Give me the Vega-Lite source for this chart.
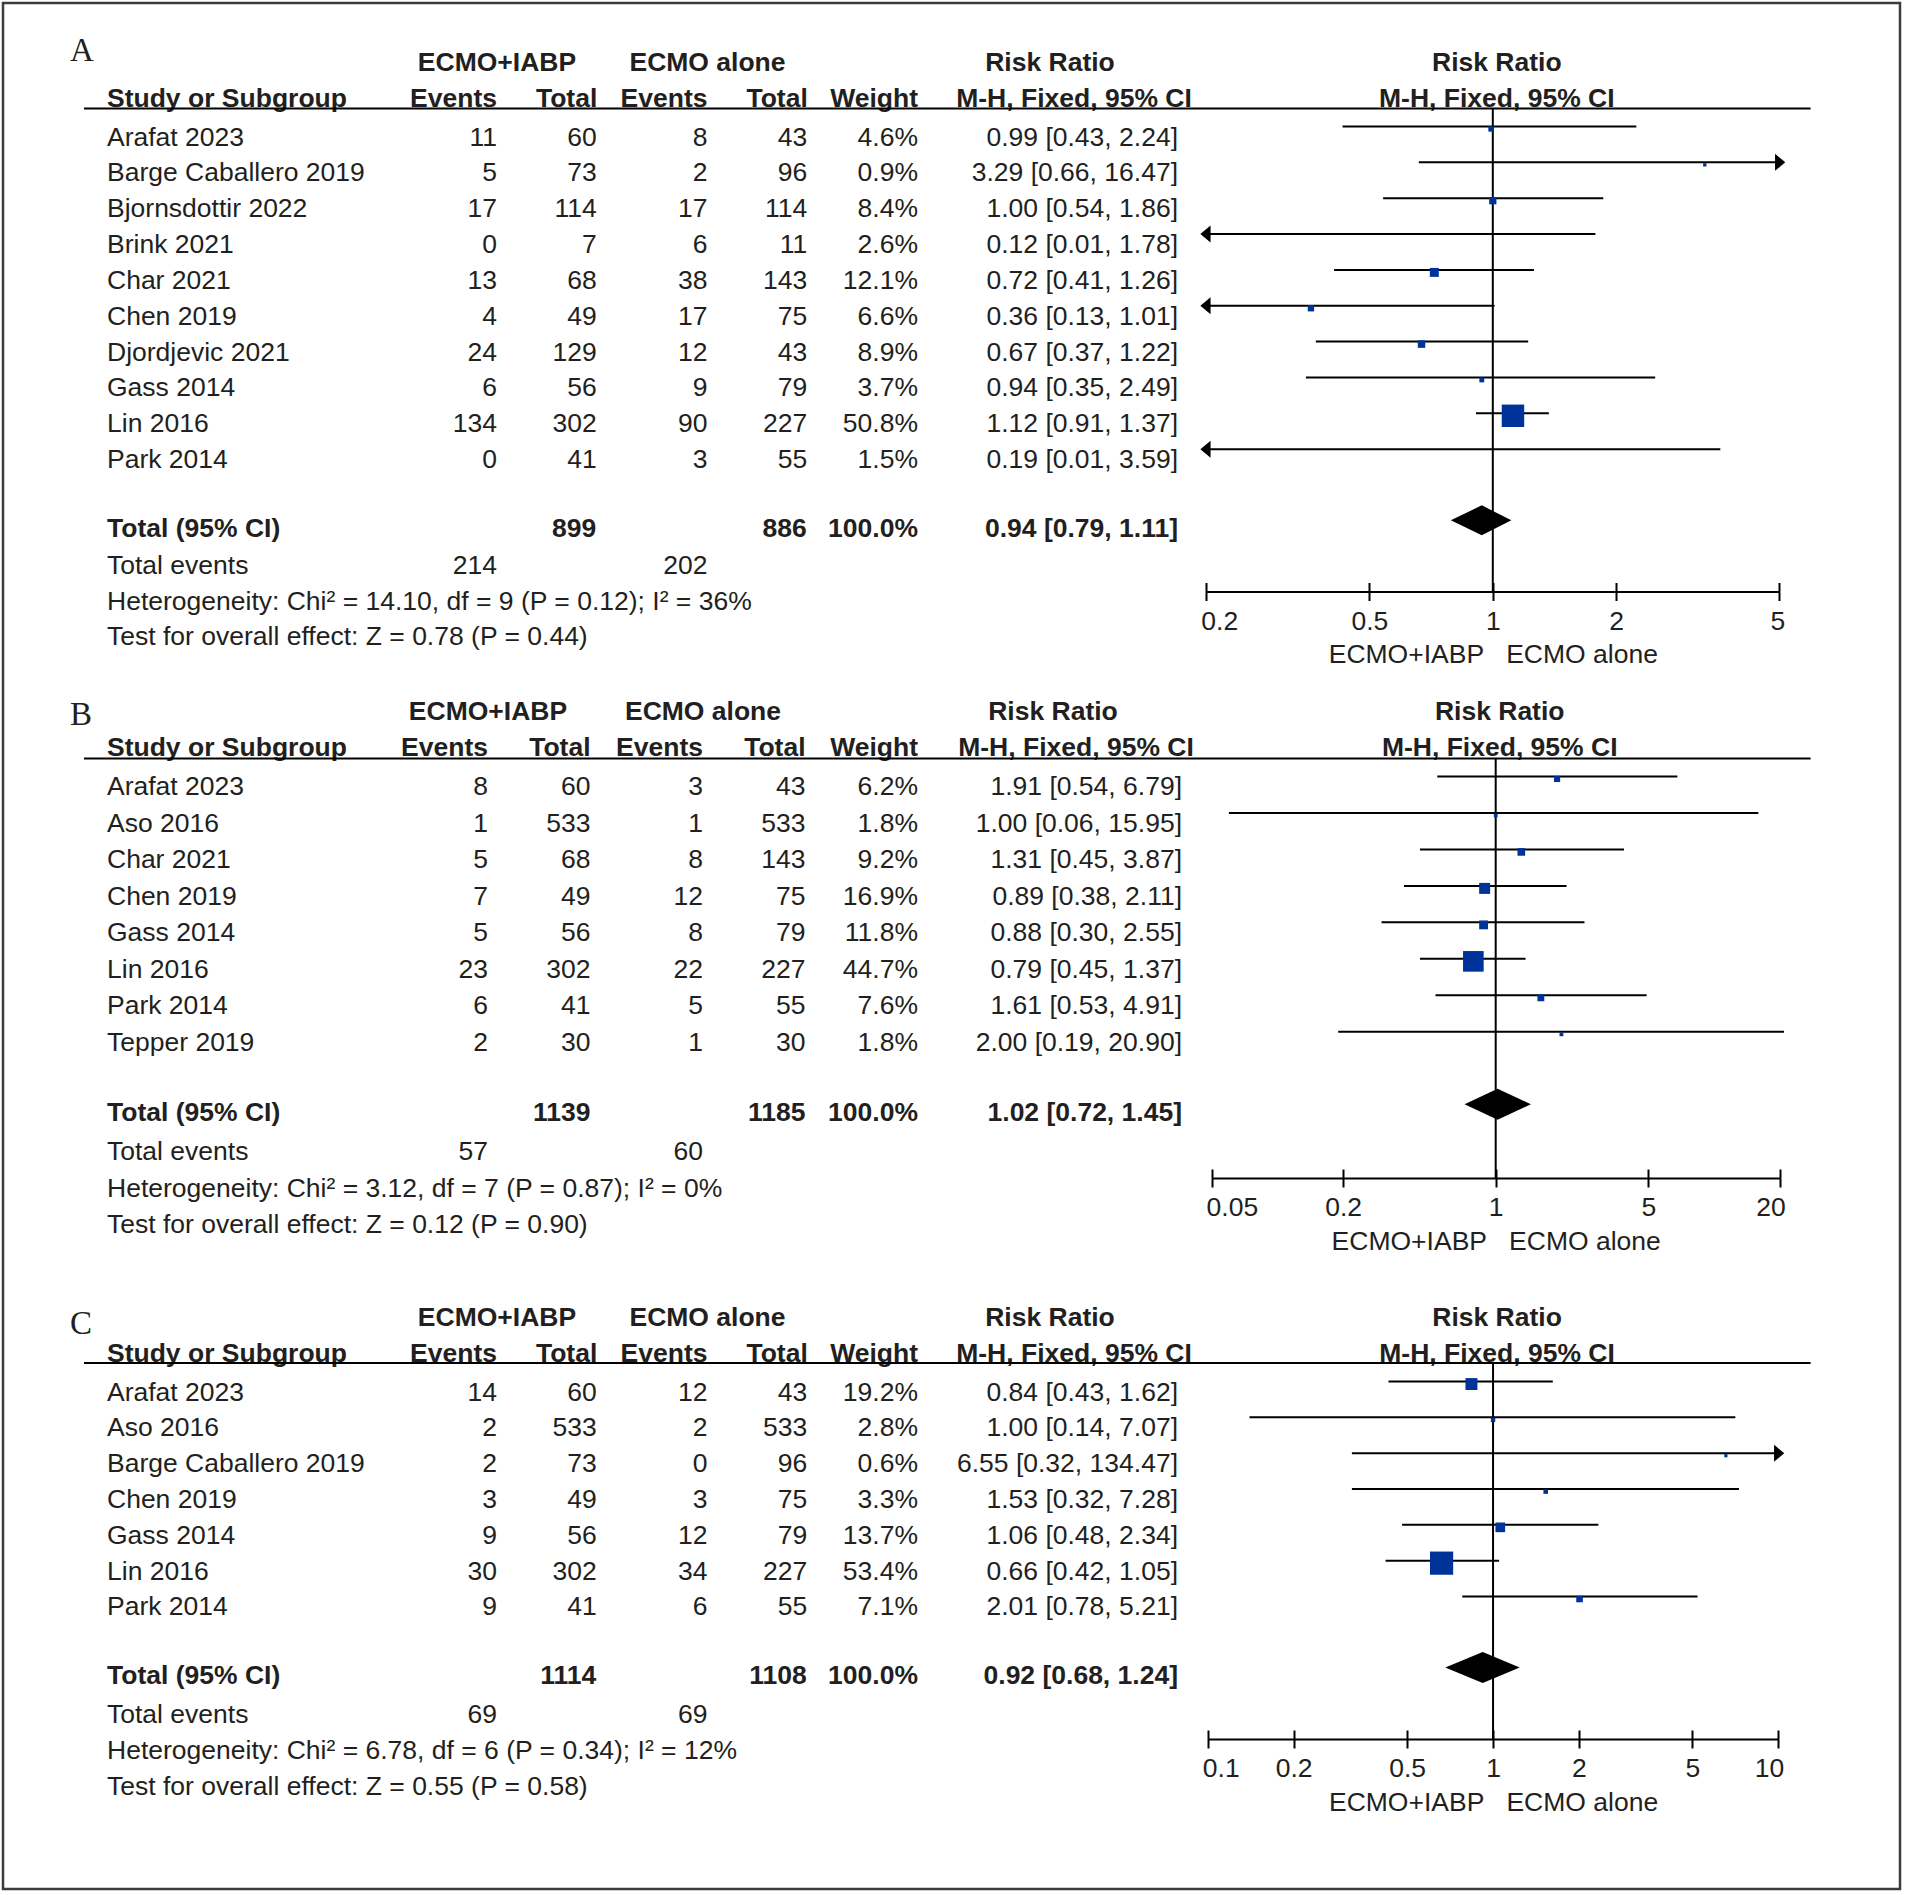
{
"$schema": "https://vega.github.io/schema/vega-lite/v6.json",
"width": 1897, "height": 1886,
"autosize": {"type": "none"},
"padding": {"left": 3, "top": 3, "right": 5, "bottom": 6},
"background": "white",
"config": {
 "view": {"stroke": "#3c3c3c", "strokeWidth": 2.5},
 "text": {"font": "Liberation Sans", "fontSize": 26.5, "color": "#231f20", "baseline": "middle"},
 "rule": {"color": "#000000", "strokeWidth": 2},
 "axis": {"domainColor": "#000000", "domainWidth": 2, "tickColor": "#000000", "tickWidth": 2, "labelFont": "Liberation Sans", "labelFontSize": 26.5, "labelColor": "#231f20", "titleFont": "Liberation Sans", "titleFontSize": 26.5, "titleFontWeight": "normal", "titleColor": "#231f20", "grid": false}
},
"datasets": {
 "studies": [
  {"panel":"A","study":"Arafat 2023","e1":11,"n1":60,"e2":8,"n2":43,"w":0.046,"rr":0.99,"lo":0.43,"hi":2.24,"ci":"0.99 [0.43, 2.24]"},
  {"panel":"A","study":"Barge Caballero 2019","e1":5,"n1":73,"e2":2,"n2":96,"w":0.009,"rr":3.29,"lo":0.66,"hi":16.47,"ci":"3.29 [0.66, 16.47]"},
  {"panel":"A","study":"Bjornsdottir 2022","e1":17,"n1":114,"e2":17,"n2":114,"w":0.084,"rr":1.00,"lo":0.54,"hi":1.86,"ci":"1.00 [0.54, 1.86]"},
  {"panel":"A","study":"Brink 2021","e1":0,"n1":7,"e2":6,"n2":11,"w":0.026,"rr":0.12,"lo":0.01,"hi":1.78,"ci":"0.12 [0.01, 1.78]"},
  {"panel":"A","study":"Char 2021","e1":13,"n1":68,"e2":38,"n2":143,"w":0.121,"rr":0.72,"lo":0.41,"hi":1.26,"ci":"0.72 [0.41, 1.26]"},
  {"panel":"A","study":"Chen 2019","e1":4,"n1":49,"e2":17,"n2":75,"w":0.066,"rr":0.36,"lo":0.13,"hi":1.01,"ci":"0.36 [0.13, 1.01]"},
  {"panel":"A","study":"Djordjevic 2021","e1":24,"n1":129,"e2":12,"n2":43,"w":0.089,"rr":0.67,"lo":0.37,"hi":1.22,"ci":"0.67 [0.37, 1.22]"},
  {"panel":"A","study":"Gass 2014","e1":6,"n1":56,"e2":9,"n2":79,"w":0.037,"rr":0.94,"lo":0.35,"hi":2.49,"ci":"0.94 [0.35, 2.49]"},
  {"panel":"A","study":"Lin 2016","e1":134,"n1":302,"e2":90,"n2":227,"w":0.508,"rr":1.12,"lo":0.91,"hi":1.37,"ci":"1.12 [0.91, 1.37]"},
  {"panel":"A","study":"Park 2014","e1":0,"n1":41,"e2":3,"n2":55,"w":0.015,"rr":0.19,"lo":0.01,"hi":3.59,"ci":"0.19 [0.01, 3.59]"},
  {"panel":"B","study":"Arafat 2023","e1":8,"n1":60,"e2":3,"n2":43,"w":0.062,"rr":1.91,"lo":0.54,"hi":6.79,"ci":"1.91 [0.54, 6.79]"},
  {"panel":"B","study":"Aso 2016","e1":1,"n1":533,"e2":1,"n2":533,"w":0.018,"rr":1.00,"lo":0.06,"hi":15.95,"ci":"1.00 [0.06, 15.95]"},
  {"panel":"B","study":"Char 2021","e1":5,"n1":68,"e2":8,"n2":143,"w":0.092,"rr":1.31,"lo":0.45,"hi":3.87,"ci":"1.31 [0.45, 3.87]"},
  {"panel":"B","study":"Chen 2019","e1":7,"n1":49,"e2":12,"n2":75,"w":0.169,"rr":0.89,"lo":0.38,"hi":2.11,"ci":"0.89 [0.38, 2.11]"},
  {"panel":"B","study":"Gass 2014","e1":5,"n1":56,"e2":8,"n2":79,"w":0.118,"rr":0.88,"lo":0.30,"hi":2.55,"ci":"0.88 [0.30, 2.55]"},
  {"panel":"B","study":"Lin 2016","e1":23,"n1":302,"e2":22,"n2":227,"w":0.447,"rr":0.79,"lo":0.45,"hi":1.37,"ci":"0.79 [0.45, 1.37]"},
  {"panel":"B","study":"Park 2014","e1":6,"n1":41,"e2":5,"n2":55,"w":0.076,"rr":1.61,"lo":0.53,"hi":4.91,"ci":"1.61 [0.53, 4.91]"},
  {"panel":"B","study":"Tepper 2019","e1":2,"n1":30,"e2":1,"n2":30,"w":0.018,"rr":2.00,"lo":0.19,"hi":20.90,"ci":"2.00 [0.19, 20.90]"},
  {"panel":"C","study":"Arafat 2023","e1":14,"n1":60,"e2":12,"n2":43,"w":0.192,"rr":0.84,"lo":0.43,"hi":1.62,"ci":"0.84 [0.43, 1.62]"},
  {"panel":"C","study":"Aso 2016","e1":2,"n1":533,"e2":2,"n2":533,"w":0.028,"rr":1.00,"lo":0.14,"hi":7.07,"ci":"1.00 [0.14, 7.07]"},
  {"panel":"C","study":"Barge Caballero 2019","e1":2,"n1":73,"e2":0,"n2":96,"w":0.006,"rr":6.55,"lo":0.32,"hi":134.47,"ci":"6.55 [0.32, 134.47]"},
  {"panel":"C","study":"Chen 2019","e1":3,"n1":49,"e2":3,"n2":75,"w":0.033,"rr":1.53,"lo":0.32,"hi":7.28,"ci":"1.53 [0.32, 7.28]"},
  {"panel":"C","study":"Gass 2014","e1":9,"n1":56,"e2":12,"n2":79,"w":0.137,"rr":1.06,"lo":0.48,"hi":2.34,"ci":"1.06 [0.48, 2.34]"},
  {"panel":"C","study":"Lin 2016","e1":30,"n1":302,"e2":34,"n2":227,"w":0.534,"rr":0.66,"lo":0.42,"hi":1.05,"ci":"0.66 [0.42, 1.05]"},
  {"panel":"C","study":"Park 2014","e1":9,"n1":41,"e2":6,"n2":55,"w":0.071,"rr":2.01,"lo":0.78,"hi":5.21,"ci":"2.01 [0.78, 5.21]"}
 ],
 "totals": [
  {"panel":"A","e1":214,"n1":899,"e2":202,"n2":886,"w":1,"rr":0.94,"lo":0.79,"hi":1.11,"ci":"0.94 [0.79, 1.11]"},
  {"panel":"B","e1":57,"n1":1139,"e2":60,"n2":1185,"w":1,"rr":1.02,"lo":0.72,"hi":1.45,"ci":"1.02 [0.72, 1.45]"},
  {"panel":"C","e1":69,"n1":1114,"e2":69,"n2":1108,"w":1,"rr":0.92,"lo":0.68,"hi":1.24,"ci":"0.92 [0.68, 1.24]"}
 ],
 "headers": [
  {"kind":"grp","row":"h1","col":"e1","text":"ECMO+IABP"},
  {"kind":"grp","row":"h1","col":"e2","text":"ECMO alone"},
  {"kind":"colhdr","row":"h2","col":"e1","text":"Events"},
  {"kind":"colhdrn","row":"h2","col":"n1","text":"Total"},
  {"kind":"colhdr","row":"h2","col":"e2","text":"Events"},
  {"kind":"colhdrn","row":"h2","col":"n2","text":"Total"},
  {"kind":"colhdr","row":"h2","col":"w","text":"Weight"},
  {"kind":"cihdr","row":"h1","col":"rr","text":"Risk Ratio"},
  {"kind":"cihdr","row":"h2","col":"mh","text":"M-H, Fixed, 95% CI"},
  {"kind":"plothdr","row":"h1","text":"Risk Ratio"},
  {"kind":"plothdr","row":"h2","text":"M-H, Fixed, 95% CI"},
  {"kind":"boldleft","row":"h2","text":"Study or Subgroup"},
  {"kind":"boldleft","row":"total","text":"Total (95% CI)"}
 ],
 "footnotes": [
  {"panel":"A","row":"events","text":"Total events"},
  {"panel":"A","row":"het","text":"Heterogeneity: Chi\u00b2 = 14.10, df = 9 (P = 0.12); I\u00b2 = 36%"},
  {"panel":"A","row":"test","text":"Test for overall effect: Z = 0.78 (P = 0.44)"},
  {"panel":"B","row":"events","text":"Total events"},
  {"panel":"B","row":"het","text":"Heterogeneity: Chi\u00b2 = 3.12, df = 7 (P = 0.87); I\u00b2 = 0%"},
  {"panel":"B","row":"test","text":"Test for overall effect: Z = 0.12 (P = 0.90)"},
  {"panel":"C","row":"events","text":"Total events"},
  {"panel":"C","row":"het","text":"Heterogeneity: Chi\u00b2 = 6.78, df = 6 (P = 0.34); I\u00b2 = 12%"},
  {"panel":"C","row":"test","text":"Test for overall effect: Z = 0.55 (P = 0.58)"}
 ],
 "profile": [
  {"key":"lo","top":0,"bot":0},
  {"key":"rr","top":1,"bot":-1},
  {"key":"hi","top":0,"bot":0}
 ]
},
"resolve": {"scale": {"x": "independent", "y": "independent"}, "axis": {"x": "independent", "y": "independent"}},
"layer": [
 {"data":{"name":"totals"},"transform":[{"filter":"datum.panel === 'A'"}],"mark":{"type":"text","font":"Liberation Serif","fontSize":33,"align":"left","dx":-37,"dy":-15},"encoding":{"x":{"datum":"study","type":"nominal","scale":{"type":"point","domain":["study","ci"],"range":[104,1175],"padding":0},"axis":null},"y":{"datum":"h1","type":"nominal","scale":{"type":"point","domain":["h1","h2","Arafat 2023","Barge Caballero 2019","Bjornsdottir 2022","Brink 2021","Char 2021","Chen 2019","Djordjevic 2021","Gass 2014","Lin 2016","Park 2014","gap","total","events","het","test"],"range":[62.8,636.4],"padding":0},"axis":null},"text":{"field":"panel","type":"nominal"}}},
 {"data":{"name":"headers"},"transform":[{"filter":"datum.kind === 'grp'"}],"mark":{"type":"text","fontWeight":"bold","align":"center","dy":-2.5},"encoding":{"x":{"field":"col","type":"nominal","scale":{"type":"point","domain":["e1","n1","e2","n2","w"],"range":[494,915],"padding":0},"axis":null},"y":{"field":"row","type":"nominal","scale":{"type":"point","domain":["h1","h2","Arafat 2023","Barge Caballero 2019","Bjornsdottir 2022","Brink 2021","Char 2021","Chen 2019","Djordjevic 2021","Gass 2014","Lin 2016","Park 2014","gap","total","events","het","test"],"range":[62.8,636.4],"padding":0},"axis":null},"text":{"field":"text","type":"nominal"}}},
 {"data":{"name":"headers"},"transform":[{"filter":"datum.kind === 'colhdr'"}],"mark":{"type":"text","fontWeight":"bold","align":"right","dy":-2.5},"encoding":{"x":{"field":"col","type":"nominal","scale":{"type":"point","domain":["e1","n1","e2","n2","w"],"range":[494,915],"padding":0},"axis":null},"y":{"field":"row","type":"nominal","scale":{"type":"point","domain":["h1","h2","Arafat 2023","Barge Caballero 2019","Bjornsdottir 2022","Brink 2021","Char 2021","Chen 2019","Djordjevic 2021","Gass 2014","Lin 2016","Park 2014","gap","total","events","het","test"],"range":[62.8,636.4],"padding":0},"axis":null},"text":{"field":"text","type":"nominal"}}},
 {"data":{"name":"headers"},"transform":[{"filter":"datum.kind === 'colhdrn'"}],"mark":{"type":"text","fontWeight":"bold","align":"right","dy":-2.5,"dx":-5},"encoding":{"x":{"field":"col","type":"nominal","scale":{"type":"point","domain":["e1","n1","e2","n2","w"],"range":[494,915],"padding":0},"axis":null},"y":{"field":"row","type":"nominal","scale":{"type":"point","domain":["h1","h2","Arafat 2023","Barge Caballero 2019","Bjornsdottir 2022","Brink 2021","Char 2021","Chen 2019","Djordjevic 2021","Gass 2014","Lin 2016","Park 2014","gap","total","events","het","test"],"range":[62.8,636.4],"padding":0},"axis":null},"text":{"field":"text","type":"nominal"}}},
 {"data":{"name":"headers"},"transform":[{"filter":"datum.kind === 'cihdr'"}],"mark":{"type":"text","fontWeight":"bold","align":"center","dy":-2.5},"encoding":{"x":{"field":"col","type":"nominal","scale":{"type":"point","domain":["rr","mh"],"range":[1047,1071],"padding":0},"axis":null},"y":{"field":"row","type":"nominal","scale":{"type":"point","domain":["h1","h2","Arafat 2023","Barge Caballero 2019","Bjornsdottir 2022","Brink 2021","Char 2021","Chen 2019","Djordjevic 2021","Gass 2014","Lin 2016","Park 2014","gap","total","events","het","test"],"range":[62.8,636.4],"padding":0},"axis":null},"text":{"field":"text","type":"nominal"}}},
 {"data":{"name":"headers"},"transform":[{"filter":"datum.kind === 'plothdr'"}],"mark":{"type":"text","fontWeight":"bold","align":"center","dx":4,"dy":-2.5},"encoding":{"x":{"datum":1,"type":"quantitative","scale":{"type":"log","domain":[0.2,5],"range":[1203.3,1776.3],"clamp":true,"nice":false},"axis":null},"y":{"field":"row","type":"nominal","scale":{"type":"point","domain":["h1","h2","Arafat 2023","Barge Caballero 2019","Bjornsdottir 2022","Brink 2021","Char 2021","Chen 2019","Djordjevic 2021","Gass 2014","Lin 2016","Park 2014","gap","total","events","het","test"],"range":[62.8,636.4],"padding":0},"axis":null},"text":{"field":"text","type":"nominal"}}},
 {"data":{"name":"headers"},"transform":[{"filter":"datum.kind === 'boldleft'"}],"mark":{"type":"text","fontWeight":"bold","align":"left","dy":-3},"encoding":{"x":{"datum":"study","type":"nominal","scale":{"type":"point","domain":["study","ci"],"range":[104,1175],"padding":0},"axis":null},"y":{"field":"row","type":"nominal","scale":{"type":"point","domain":["h1","h2","Arafat 2023","Barge Caballero 2019","Bjornsdottir 2022","Brink 2021","Char 2021","Chen 2019","Djordjevic 2021","Gass 2014","Lin 2016","Park 2014","gap","total","events","het","test"],"range":[62.8,636.4],"padding":0},"axis":null},"text":{"field":"text","type":"nominal"}}},
 {"data":{"name":"studies"},"transform":[{"filter":"datum.panel === 'A'"}],"mark":{"type":"text","align":"left"},"encoding":{"x":{"datum":"study","type":"nominal","scale":{"type":"point","domain":["study","ci"],"range":[104,1175],"padding":0},"axis":null},"y":{"field":"study","type":"nominal","scale":{"type":"point","domain":["h1","h2","Arafat 2023","Barge Caballero 2019","Bjornsdottir 2022","Brink 2021","Char 2021","Chen 2019","Djordjevic 2021","Gass 2014","Lin 2016","Park 2014","gap","total","events","het","test"],"range":[62.8,636.4],"padding":0},"axis":null},"text":{"field":"study","type":"nominal"}}},
 {"data":{"name":"footnotes"},"transform":[{"filter":"datum.panel === 'A'"}],"mark":{"type":"text","align":"left","dy":-2},"encoding":{"x":{"datum":"study","type":"nominal","scale":{"type":"point","domain":["study","ci"],"range":[104,1175],"padding":0},"axis":null},"y":{"field":"row","type":"nominal","scale":{"type":"point","domain":["h1","h2","Arafat 2023","Barge Caballero 2019","Bjornsdottir 2022","Brink 2021","Char 2021","Chen 2019","Djordjevic 2021","Gass 2014","Lin 2016","Park 2014","gap","total","events","het","test"],"range":[62.8,636.4],"padding":0},"axis":null},"text":{"field":"text","type":"nominal"}}},
 {"data":{"name":"studies"},"transform":[{"filter":"datum.panel === 'A'"},{"fold":["e1","e2"],"as":["key","value"]}],"mark":{"type":"text","align":"right"},"encoding":{"x":{"field":"key","type":"nominal","scale":{"type":"point","domain":["e1","n1","e2","n2","w"],"range":[494,915],"padding":0},"axis":null},"y":{"field":"study","type":"nominal","scale":{"type":"point","domain":["h1","h2","Arafat 2023","Barge Caballero 2019","Bjornsdottir 2022","Brink 2021","Char 2021","Chen 2019","Djordjevic 2021","Gass 2014","Lin 2016","Park 2014","gap","total","events","het","test"],"range":[62.8,636.4],"padding":0},"axis":null},"text":{"field":"value","type":"nominal"}}},
 {"data":{"name":"studies"},"transform":[{"filter":"datum.panel === 'A'"},{"fold":["n1","n2"],"as":["key","value"]}],"mark":{"type":"text","align":"right","dx":-5.5},"encoding":{"x":{"field":"key","type":"nominal","scale":{"type":"point","domain":["e1","n1","e2","n2","w"],"range":[494,915],"padding":0},"axis":null},"y":{"field":"study","type":"nominal","scale":{"type":"point","domain":["h1","h2","Arafat 2023","Barge Caballero 2019","Bjornsdottir 2022","Brink 2021","Char 2021","Chen 2019","Djordjevic 2021","Gass 2014","Lin 2016","Park 2014","gap","total","events","het","test"],"range":[62.8,636.4],"padding":0},"axis":null},"text":{"field":"value","type":"nominal"}}},
 {"data":{"name":"studies"},"transform":[{"filter":"datum.panel === 'A'"}],"mark":{"type":"text","align":"right"},"encoding":{"x":{"datum":"w","type":"nominal","scale":{"type":"point","domain":["e1","n1","e2","n2","w"],"range":[494,915],"padding":0},"axis":null},"y":{"field":"study","type":"nominal","scale":{"type":"point","domain":["h1","h2","Arafat 2023","Barge Caballero 2019","Bjornsdottir 2022","Brink 2021","Char 2021","Chen 2019","Djordjevic 2021","Gass 2014","Lin 2016","Park 2014","gap","total","events","het","test"],"range":[62.8,636.4],"padding":0},"axis":null},"text":{"field":"w","type":"quantitative","format":".1%"}}},
 {"data":{"name":"studies"},"transform":[{"filter":"datum.panel === 'A'"}],"mark":{"type":"text","align":"right"},"encoding":{"x":{"datum":"ci","type":"nominal","scale":{"type":"point","domain":["study","ci"],"range":[104,1175],"padding":0},"axis":null},"y":{"field":"study","type":"nominal","scale":{"type":"point","domain":["h1","h2","Arafat 2023","Barge Caballero 2019","Bjornsdottir 2022","Brink 2021","Char 2021","Chen 2019","Djordjevic 2021","Gass 2014","Lin 2016","Park 2014","gap","total","events","het","test"],"range":[62.8,636.4],"padding":0},"axis":null},"text":{"field":"ci","type":"nominal"}}},
 {"data":{"name":"totals"},"transform":[{"filter":"datum.panel === 'A'"},{"fold":["e1","e2"],"as":["key","value"]}],"mark":{"type":"text","align":"right","dy":-2},"encoding":{"x":{"field":"key","type":"nominal","scale":{"type":"point","domain":["e1","n1","e2","n2","w"],"range":[494,915],"padding":0},"axis":null},"y":{"datum":"events","type":"nominal","scale":{"type":"point","domain":["h1","h2","Arafat 2023","Barge Caballero 2019","Bjornsdottir 2022","Brink 2021","Char 2021","Chen 2019","Djordjevic 2021","Gass 2014","Lin 2016","Park 2014","gap","total","events","het","test"],"range":[62.8,636.4],"padding":0},"axis":null},"text":{"field":"value","type":"nominal"}}},
 {"data":{"name":"totals"},"transform":[{"filter":"datum.panel === 'A'"},{"fold":["n1","n2"],"as":["key","value"]}],"mark":{"type":"text","align":"right","fontWeight":"bold","dx":-6,"dy":-3},"encoding":{"x":{"field":"key","type":"nominal","scale":{"type":"point","domain":["e1","n1","e2","n2","w"],"range":[494,915],"padding":0},"axis":null},"y":{"datum":"total","type":"nominal","scale":{"type":"point","domain":["h1","h2","Arafat 2023","Barge Caballero 2019","Bjornsdottir 2022","Brink 2021","Char 2021","Chen 2019","Djordjevic 2021","Gass 2014","Lin 2016","Park 2014","gap","total","events","het","test"],"range":[62.8,636.4],"padding":0},"axis":null},"text":{"field":"value","type":"nominal"}}},
 {"data":{"name":"totals"},"transform":[{"filter":"datum.panel === 'A'"}],"mark":{"type":"text","align":"right","fontWeight":"bold","dy":-3},"encoding":{"x":{"datum":"w","type":"nominal","scale":{"type":"point","domain":["e1","n1","e2","n2","w"],"range":[494,915],"padding":0},"axis":null},"y":{"datum":"total","type":"nominal","scale":{"type":"point","domain":["h1","h2","Arafat 2023","Barge Caballero 2019","Bjornsdottir 2022","Brink 2021","Char 2021","Chen 2019","Djordjevic 2021","Gass 2014","Lin 2016","Park 2014","gap","total","events","het","test"],"range":[62.8,636.4],"padding":0},"axis":null},"text":{"field":"w","type":"quantitative","format":".1%"}}},
 {"data":{"name":"totals"},"transform":[{"filter":"datum.panel === 'A'"}],"mark":{"type":"text","align":"right","fontWeight":"bold","dy":-3},"encoding":{"x":{"datum":"ci","type":"nominal","scale":{"type":"point","domain":["study","ci"],"range":[104,1175],"padding":0},"axis":null},"y":{"datum":"total","type":"nominal","scale":{"type":"point","domain":["h1","h2","Arafat 2023","Barge Caballero 2019","Bjornsdottir 2022","Brink 2021","Char 2021","Chen 2019","Djordjevic 2021","Gass 2014","Lin 2016","Park 2014","gap","total","events","het","test"],"range":[62.8,636.4],"padding":0},"axis":null},"text":{"field":"ci","type":"nominal"}}},
 {"data":{"name":"totals"},"transform":[{"filter":"datum.panel === 'A'"}],"mark":{"type":"rule"},"encoding":{"x":{"datum":0,"type":"quantitative","scale":{"type":"linear","domain":[0,1],"range":[81,1807.6],"zero":false,"nice":false},"axis":null},"x2":{"datum":1},"y":{"datum":0,"type":"quantitative","scale":{"type":"linear","domain":[0,1],"range":[105.5,588.5],"zero":false,"nice":false},"axis":null}}},
 {"data":{"name":"totals"},"transform":[{"filter":"datum.panel === 'A'"}],"mark":{"type":"rule"},"encoding":{"x":{"datum":1,"type":"quantitative","scale":{"type":"log","domain":[0.2,5],"range":[1203.3,1776.3],"clamp":true,"nice":false},"axis":null},"y":{"datum":0,"type":"quantitative","scale":{"type":"linear","domain":[0,1],"range":[105.5,588.5],"zero":false,"nice":false},"axis":null},"y2":{"datum":1}}},
 {"data":{"name":"studies"},"transform":[{"filter":"datum.panel === 'A'"}],"mark":{"type":"rule","yOffset":-11},"encoding":{"x":{"field":"lo","type":"quantitative","scale":{"type":"log","domain":[0.2,5],"range":[1203.3,1776.3],"clamp":true,"nice":false},"axis":{"orient":"bottom","values":[0.2,0.5,1,2,5],"format":"~g","offset":-1297.5,"title":"ECMO+IABP\u00a0\u00a0\u00a0ECMO alone","tickSize":9,"labelPadding":7.5,"titlePadding":7,"labelFlush":true,"labelFlushOffset":5.5,"labelOverlap":false}},"x2":{"field":"hi"},"y":{"field":"study","type":"nominal","scale":{"type":"point","domain":["h1","h2","Arafat 2023","Barge Caballero 2019","Bjornsdottir 2022","Brink 2021","Char 2021","Chen 2019","Djordjevic 2021","Gass 2014","Lin 2016","Park 2014","gap","total","events","het","test"],"range":[62.8,636.4],"padding":0},"axis":null}}},
 {"data":{"name":"studies"},"transform":[{"filter":"datum.panel === 'A'"},{"filter":"datum.rr >= 0.2 && datum.rr <= 5"}],"mark":{"type":"point","shape":"square","filled":true,"color":"#003399","opacity":1,"yOffset":-8.5},"encoding":{"x":{"field":"rr","type":"quantitative","scale":{"type":"log","domain":[0.2,5],"range":[1203.3,1776.3],"clamp":true,"nice":false},"axis":{"orient":"bottom","values":[0.2,0.5,1,2,5],"offset":-1297.5,"tickSize":-9,"labels":false,"domain":false,"title":null}},"y":{"field":"study","type":"nominal","scale":{"type":"point","domain":["h1","h2","Arafat 2023","Barge Caballero 2019","Bjornsdottir 2022","Brink 2021","Char 2021","Chen 2019","Djordjevic 2021","Gass 2014","Lin 2016","Park 2014","gap","total","events","het","test"],"range":[62.8,636.4],"padding":0},"axis":null},"size":{"field":"w","type":"quantitative","scale":{"type":"pow","exponent":1.35,"domain":[0,0.55],"range":[9,560]},"legend":null}}},
 {"data":{"name":"studies"},"transform":[{"filter":"datum.panel === 'A'"},{"filter":"datum.hi > 5"}],"mark":{"type":"point","shape":"M-0.5,-1L0.7,0L-0.5,1Z","filled":true,"color":"#000000","opacity":1,"size":289,"yOffset":-11},"encoding":{"x":{"field":"hi","type":"quantitative","scale":{"type":"log","domain":[0.2,5],"range":[1203.3,1776.3],"clamp":true,"nice":false},"axis":null},"y":{"field":"study","type":"nominal","scale":{"type":"point","domain":["h1","h2","Arafat 2023","Barge Caballero 2019","Bjornsdottir 2022","Brink 2021","Char 2021","Chen 2019","Djordjevic 2021","Gass 2014","Lin 2016","Park 2014","gap","total","events","het","test"],"range":[62.8,636.4],"padding":0},"axis":null}}},
 {"data":{"name":"studies"},"transform":[{"filter":"datum.panel === 'A'"},{"filter":"datum.lo < 0.2"}],"mark":{"type":"point","shape":"M0.5,-1L-0.7,0L0.5,1Z","filled":true,"color":"#000000","opacity":1,"size":289,"yOffset":-11},"encoding":{"x":{"field":"lo","type":"quantitative","scale":{"type":"log","domain":[0.2,5],"range":[1203.3,1776.3],"clamp":true,"nice":false},"axis":null},"y":{"field":"study","type":"nominal","scale":{"type":"point","domain":["h1","h2","Arafat 2023","Barge Caballero 2019","Bjornsdottir 2022","Brink 2021","Char 2021","Chen 2019","Djordjevic 2021","Gass 2014","Lin 2016","Park 2014","gap","total","events","het","test"],"range":[62.8,636.4],"padding":0},"axis":null}}},
 {"data":{"name":"totals"},"transform":[{"filter":"datum.panel === 'A'"},{"fold":["lo","rr","hi"],"as":["key","value"]},{"lookup":"key","from":{"data":{"name":"profile"},"key":"key","fields":["top","bot"]}}],"mark":{"type":"area","color":"#000000","opacity":1},"encoding":{"x":{"field":"value","type":"quantitative","scale":{"type":"log","domain":[0.2,5],"range":[1203.3,1776.3],"clamp":true,"nice":false},"axis":null},"y":{"field":"top","type":"quantitative","scale":{"type":"linear","domain":[-1,1],"range":[532.35,502.35],"zero":false,"nice":false},"axis":null},"y2":{"field":"bot"}}},

 {"data":{"name":"totals"},"transform":[{"filter":"datum.panel === 'B'"}],"mark":{"type":"text","font":"Liberation Serif","fontSize":33,"align":"left","dx":-37,"dy":0},"encoding":{"x":{"datum":"study","type":"nominal","scale":{"type":"point","domain":["study","ci"],"range":[104,1179],"padding":0},"axis":null},"y":{"datum":"h1","type":"nominal","scale":{"type":"point","domain":["h1","h2","Arafat 2023","Aso 2016","Char 2021","Chen 2019","Gass 2014","Lin 2016","Park 2014","Tepper 2019","gap","total","events","het","test"],"range":[711.5,1222.2],"padding":0},"axis":null},"text":{"field":"panel","type":"nominal"}}},
 {"data":{"name":"headers"},"transform":[{"filter":"datum.kind === 'grp'"}],"mark":{"type":"text","fontWeight":"bold","align":"center","dy":-2.5},"encoding":{"x":{"field":"col","type":"nominal","scale":{"type":"point","domain":["e1","n1","e2","n2","w"],"range":[485,915],"padding":0},"axis":null},"y":{"field":"row","type":"nominal","scale":{"type":"point","domain":["h1","h2","Arafat 2023","Aso 2016","Char 2021","Chen 2019","Gass 2014","Lin 2016","Park 2014","Tepper 2019","gap","total","events","het","test"],"range":[711.5,1222.2],"padding":0},"axis":null},"text":{"field":"text","type":"nominal"}}},
 {"data":{"name":"headers"},"transform":[{"filter":"datum.kind === 'colhdr'"}],"mark":{"type":"text","fontWeight":"bold","align":"right","dy":-2.5},"encoding":{"x":{"field":"col","type":"nominal","scale":{"type":"point","domain":["e1","n1","e2","n2","w"],"range":[485,915],"padding":0},"axis":null},"y":{"field":"row","type":"nominal","scale":{"type":"point","domain":["h1","h2","Arafat 2023","Aso 2016","Char 2021","Chen 2019","Gass 2014","Lin 2016","Park 2014","Tepper 2019","gap","total","events","het","test"],"range":[711.5,1222.2],"padding":0},"axis":null},"text":{"field":"text","type":"nominal"}}},
 {"data":{"name":"headers"},"transform":[{"filter":"datum.kind === 'colhdrn'"}],"mark":{"type":"text","fontWeight":"bold","align":"right","dy":-2.5,"dx":-5},"encoding":{"x":{"field":"col","type":"nominal","scale":{"type":"point","domain":["e1","n1","e2","n2","w"],"range":[485,915],"padding":0},"axis":null},"y":{"field":"row","type":"nominal","scale":{"type":"point","domain":["h1","h2","Arafat 2023","Aso 2016","Char 2021","Chen 2019","Gass 2014","Lin 2016","Park 2014","Tepper 2019","gap","total","events","het","test"],"range":[711.5,1222.2],"padding":0},"axis":null},"text":{"field":"text","type":"nominal"}}},
 {"data":{"name":"headers"},"transform":[{"filter":"datum.kind === 'cihdr'"}],"mark":{"type":"text","fontWeight":"bold","align":"center","dy":-2.5},"encoding":{"x":{"field":"col","type":"nominal","scale":{"type":"point","domain":["rr","mh"],"range":[1050,1073],"padding":0},"axis":null},"y":{"field":"row","type":"nominal","scale":{"type":"point","domain":["h1","h2","Arafat 2023","Aso 2016","Char 2021","Chen 2019","Gass 2014","Lin 2016","Park 2014","Tepper 2019","gap","total","events","het","test"],"range":[711.5,1222.2],"padding":0},"axis":null},"text":{"field":"text","type":"nominal"}}},
 {"data":{"name":"headers"},"transform":[{"filter":"datum.kind === 'plothdr'"}],"mark":{"type":"text","fontWeight":"bold","align":"center","dx":4,"dy":-2.5},"encoding":{"x":{"datum":1,"type":"quantitative","scale":{"type":"log","domain":[0.05,20],"range":[1208.6,1776.8],"clamp":false,"nice":false},"axis":null},"y":{"field":"row","type":"nominal","scale":{"type":"point","domain":["h1","h2","Arafat 2023","Aso 2016","Char 2021","Chen 2019","Gass 2014","Lin 2016","Park 2014","Tepper 2019","gap","total","events","het","test"],"range":[711.5,1222.2],"padding":0},"axis":null},"text":{"field":"text","type":"nominal"}}},
 {"data":{"name":"headers"},"transform":[{"filter":"datum.kind === 'boldleft'"}],"mark":{"type":"text","fontWeight":"bold","align":"left","dy":-3},"encoding":{"x":{"datum":"study","type":"nominal","scale":{"type":"point","domain":["study","ci"],"range":[104,1179],"padding":0},"axis":null},"y":{"field":"row","type":"nominal","scale":{"type":"point","domain":["h1","h2","Arafat 2023","Aso 2016","Char 2021","Chen 2019","Gass 2014","Lin 2016","Park 2014","Tepper 2019","gap","total","events","het","test"],"range":[711.5,1222.2],"padding":0},"axis":null},"text":{"field":"text","type":"nominal"}}},
 {"data":{"name":"studies"},"transform":[{"filter":"datum.panel === 'B'"}],"mark":{"type":"text","align":"left"},"encoding":{"x":{"datum":"study","type":"nominal","scale":{"type":"point","domain":["study","ci"],"range":[104,1179],"padding":0},"axis":null},"y":{"field":"study","type":"nominal","scale":{"type":"point","domain":["h1","h2","Arafat 2023","Aso 2016","Char 2021","Chen 2019","Gass 2014","Lin 2016","Park 2014","Tepper 2019","gap","total","events","het","test"],"range":[711.5,1222.2],"padding":0},"axis":null},"text":{"field":"study","type":"nominal"}}},
 {"data":{"name":"footnotes"},"transform":[{"filter":"datum.panel === 'B'"}],"mark":{"type":"text","align":"left"},"encoding":{"x":{"datum":"study","type":"nominal","scale":{"type":"point","domain":["study","ci"],"range":[104,1179],"padding":0},"axis":null},"y":{"field":"row","type":"nominal","scale":{"type":"point","domain":["h1","h2","Arafat 2023","Aso 2016","Char 2021","Chen 2019","Gass 2014","Lin 2016","Park 2014","Tepper 2019","gap","total","events","het","test"],"range":[711.5,1222.2],"padding":0},"axis":null},"text":{"field":"text","type":"nominal"}}},
 {"data":{"name":"studies"},"transform":[{"filter":"datum.panel === 'B'"},{"fold":["e1","e2"],"as":["key","value"]}],"mark":{"type":"text","align":"right"},"encoding":{"x":{"field":"key","type":"nominal","scale":{"type":"point","domain":["e1","n1","e2","n2","w"],"range":[485,915],"padding":0},"axis":null},"y":{"field":"study","type":"nominal","scale":{"type":"point","domain":["h1","h2","Arafat 2023","Aso 2016","Char 2021","Chen 2019","Gass 2014","Lin 2016","Park 2014","Tepper 2019","gap","total","events","het","test"],"range":[711.5,1222.2],"padding":0},"axis":null},"text":{"field":"value","type":"nominal"}}},
 {"data":{"name":"studies"},"transform":[{"filter":"datum.panel === 'B'"},{"fold":["n1","n2"],"as":["key","value"]}],"mark":{"type":"text","align":"right","dx":-5},"encoding":{"x":{"field":"key","type":"nominal","scale":{"type":"point","domain":["e1","n1","e2","n2","w"],"range":[485,915],"padding":0},"axis":null},"y":{"field":"study","type":"nominal","scale":{"type":"point","domain":["h1","h2","Arafat 2023","Aso 2016","Char 2021","Chen 2019","Gass 2014","Lin 2016","Park 2014","Tepper 2019","gap","total","events","het","test"],"range":[711.5,1222.2],"padding":0},"axis":null},"text":{"field":"value","type":"nominal"}}},
 {"data":{"name":"studies"},"transform":[{"filter":"datum.panel === 'B'"}],"mark":{"type":"text","align":"right"},"encoding":{"x":{"datum":"w","type":"nominal","scale":{"type":"point","domain":["e1","n1","e2","n2","w"],"range":[485,915],"padding":0},"axis":null},"y":{"field":"study","type":"nominal","scale":{"type":"point","domain":["h1","h2","Arafat 2023","Aso 2016","Char 2021","Chen 2019","Gass 2014","Lin 2016","Park 2014","Tepper 2019","gap","total","events","het","test"],"range":[711.5,1222.2],"padding":0},"axis":null},"text":{"field":"w","type":"quantitative","format":".1%"}}},
 {"data":{"name":"studies"},"transform":[{"filter":"datum.panel === 'B'"}],"mark":{"type":"text","align":"right"},"encoding":{"x":{"datum":"ci","type":"nominal","scale":{"type":"point","domain":["study","ci"],"range":[104,1179],"padding":0},"axis":null},"y":{"field":"study","type":"nominal","scale":{"type":"point","domain":["h1","h2","Arafat 2023","Aso 2016","Char 2021","Chen 2019","Gass 2014","Lin 2016","Park 2014","Tepper 2019","gap","total","events","het","test"],"range":[711.5,1222.2],"padding":0},"axis":null},"text":{"field":"ci","type":"nominal"}}},
 {"data":{"name":"totals"},"transform":[{"filter":"datum.panel === 'B'"},{"fold":["e1","e2"],"as":["key","value"]}],"mark":{"type":"text","align":"right"},"encoding":{"x":{"field":"key","type":"nominal","scale":{"type":"point","domain":["e1","n1","e2","n2","w"],"range":[485,915],"padding":0},"axis":null},"y":{"datum":"events","type":"nominal","scale":{"type":"point","domain":["h1","h2","Arafat 2023","Aso 2016","Char 2021","Chen 2019","Gass 2014","Lin 2016","Park 2014","Tepper 2019","gap","total","events","het","test"],"range":[711.5,1222.2],"padding":0},"axis":null},"text":{"field":"value","type":"nominal"}}},
 {"data":{"name":"totals"},"transform":[{"filter":"datum.panel === 'B'"},{"fold":["n1","n2"],"as":["key","value"]}],"mark":{"type":"text","align":"right","fontWeight":"bold","dx":-5,"dy":-3},"encoding":{"x":{"field":"key","type":"nominal","scale":{"type":"point","domain":["e1","n1","e2","n2","w"],"range":[485,915],"padding":0},"axis":null},"y":{"datum":"total","type":"nominal","scale":{"type":"point","domain":["h1","h2","Arafat 2023","Aso 2016","Char 2021","Chen 2019","Gass 2014","Lin 2016","Park 2014","Tepper 2019","gap","total","events","het","test"],"range":[711.5,1222.2],"padding":0},"axis":null},"text":{"field":"value","type":"nominal"}}},
 {"data":{"name":"totals"},"transform":[{"filter":"datum.panel === 'B'"}],"mark":{"type":"text","align":"right","fontWeight":"bold","dy":-3},"encoding":{"x":{"datum":"w","type":"nominal","scale":{"type":"point","domain":["e1","n1","e2","n2","w"],"range":[485,915],"padding":0},"axis":null},"y":{"datum":"total","type":"nominal","scale":{"type":"point","domain":["h1","h2","Arafat 2023","Aso 2016","Char 2021","Chen 2019","Gass 2014","Lin 2016","Park 2014","Tepper 2019","gap","total","events","het","test"],"range":[711.5,1222.2],"padding":0},"axis":null},"text":{"field":"w","type":"quantitative","format":".1%"}}},
 {"data":{"name":"totals"},"transform":[{"filter":"datum.panel === 'B'"}],"mark":{"type":"text","align":"right","fontWeight":"bold","dy":-3},"encoding":{"x":{"datum":"ci","type":"nominal","scale":{"type":"point","domain":["study","ci"],"range":[104,1179],"padding":0},"axis":null},"y":{"datum":"total","type":"nominal","scale":{"type":"point","domain":["h1","h2","Arafat 2023","Aso 2016","Char 2021","Chen 2019","Gass 2014","Lin 2016","Park 2014","Tepper 2019","gap","total","events","het","test"],"range":[711.5,1222.2],"padding":0},"axis":null},"text":{"field":"ci","type":"nominal"}}},
 {"data":{"name":"totals"},"transform":[{"filter":"datum.panel === 'B'"}],"mark":{"type":"rule"},"encoding":{"x":{"datum":0,"type":"quantitative","scale":{"type":"linear","domain":[0,1],"range":[81,1807.6],"zero":false,"nice":false},"axis":null},"x2":{"datum":1},"y":{"datum":0,"type":"quantitative","scale":{"type":"linear","domain":[0,1],"range":[755.4,1175],"zero":false,"nice":false},"axis":null}}},
 {"data":{"name":"totals"},"transform":[{"filter":"datum.panel === 'B'"}],"mark":{"type":"rule"},"encoding":{"x":{"datum":1,"type":"quantitative","scale":{"type":"log","domain":[0.05,20],"range":[1208.6,1776.8],"clamp":false,"nice":false},"axis":null},"y":{"datum":0,"type":"quantitative","scale":{"type":"linear","domain":[0,1],"range":[755.4,1175],"zero":false,"nice":false},"axis":null},"y2":{"datum":1}}},
 {"data":{"name":"studies"},"transform":[{"filter":"datum.panel === 'B'"}],"mark":{"type":"rule","yOffset":-11},"encoding":{"x":{"field":"lo","type":"quantitative","scale":{"type":"log","domain":[0.05,20],"range":[1208.6,1776.8],"clamp":false,"nice":false},"axis":{"orient":"bottom","values":[0.05,0.2,1,5,20],"format":"~g","offset":-711,"title":"ECMO+IABP\u00a0\u00a0\u00a0ECMO alone","tickSize":9,"labelPadding":7.5,"titlePadding":7,"labelFlush":true,"labelFlushOffset":5.5,"labelOverlap":false}},"x2":{"field":"hi"},"y":{"field":"study","type":"nominal","scale":{"type":"point","domain":["h1","h2","Arafat 2023","Aso 2016","Char 2021","Chen 2019","Gass 2014","Lin 2016","Park 2014","Tepper 2019","gap","total","events","het","test"],"range":[711.5,1222.2],"padding":0},"axis":null}}},
 {"data":{"name":"studies"},"transform":[{"filter":"datum.panel === 'B'"}],"mark":{"type":"point","shape":"square","filled":true,"color":"#003399","opacity":1,"yOffset":-8.5},"encoding":{"x":{"field":"rr","type":"quantitative","scale":{"type":"log","domain":[0.05,20],"range":[1208.6,1776.8],"clamp":false,"nice":false},"axis":{"orient":"bottom","values":[0.05,0.2,1,5,20],"offset":-711,"tickSize":-9,"labels":false,"domain":false,"title":null}},"y":{"field":"study","type":"nominal","scale":{"type":"point","domain":["h1","h2","Arafat 2023","Aso 2016","Char 2021","Chen 2019","Gass 2014","Lin 2016","Park 2014","Tepper 2019","gap","total","events","het","test"],"range":[711.5,1222.2],"padding":0},"axis":null},"size":{"field":"w","type":"quantitative","scale":{"type":"pow","exponent":1.35,"domain":[0,0.55],"range":[9,560]},"legend":null}}},
 {"data":{"name":"totals"},"transform":[{"filter":"datum.panel === 'B'"},{"fold":["lo","rr","hi"],"as":["key","value"]},{"lookup":"key","from":{"data":{"name":"profile"},"key":"key","fields":["top","bot"]}}],"mark":{"type":"area","color":"#000000","opacity":1},"encoding":{"x":{"field":"value","type":"quantitative","scale":{"type":"log","domain":[0.05,20],"range":[1208.6,1776.8],"clamp":false,"nice":false},"axis":null},"y":{"field":"top","type":"quantitative","scale":{"type":"linear","domain":[-1,1],"range":[1116.8,1085.8],"zero":false,"nice":false},"axis":null},"y2":{"field":"bot"}}},

 {"data":{"name":"totals"},"transform":[{"filter":"datum.panel === 'C'"}],"mark":{"type":"text","font":"Liberation Serif","fontSize":33,"align":"left","dx":-37,"dy":3.5},"encoding":{"x":{"datum":"study","type":"nominal","scale":{"type":"point","domain":["study","ci"],"range":[104,1175],"padding":0},"axis":null},"y":{"datum":"h1","type":"nominal","scale":{"type":"point","domain":["h1","h2","Arafat 2023","Aso 2016","Barge Caballero 2019","Chen 2019","Gass 2014","Lin 2016","Park 2014","gap","total","events","het","test"],"range":[1317.9,1783.6],"padding":0},"axis":null},"text":{"field":"panel","type":"nominal"}}},
 {"data":{"name":"headers"},"transform":[{"filter":"datum.kind === 'grp'"}],"mark":{"type":"text","fontWeight":"bold","align":"center","dy":-2.5},"encoding":{"x":{"field":"col","type":"nominal","scale":{"type":"point","domain":["e1","n1","e2","n2","w"],"range":[494,915],"padding":0},"axis":null},"y":{"field":"row","type":"nominal","scale":{"type":"point","domain":["h1","h2","Arafat 2023","Aso 2016","Barge Caballero 2019","Chen 2019","Gass 2014","Lin 2016","Park 2014","gap","total","events","het","test"],"range":[1317.9,1783.6],"padding":0},"axis":null},"text":{"field":"text","type":"nominal"}}},
 {"data":{"name":"headers"},"transform":[{"filter":"datum.kind === 'colhdr'"}],"mark":{"type":"text","fontWeight":"bold","align":"right","dy":-2.5},"encoding":{"x":{"field":"col","type":"nominal","scale":{"type":"point","domain":["e1","n1","e2","n2","w"],"range":[494,915],"padding":0},"axis":null},"y":{"field":"row","type":"nominal","scale":{"type":"point","domain":["h1","h2","Arafat 2023","Aso 2016","Barge Caballero 2019","Chen 2019","Gass 2014","Lin 2016","Park 2014","gap","total","events","het","test"],"range":[1317.9,1783.6],"padding":0},"axis":null},"text":{"field":"text","type":"nominal"}}},
 {"data":{"name":"headers"},"transform":[{"filter":"datum.kind === 'colhdrn'"}],"mark":{"type":"text","fontWeight":"bold","align":"right","dy":-2.5,"dx":-5},"encoding":{"x":{"field":"col","type":"nominal","scale":{"type":"point","domain":["e1","n1","e2","n2","w"],"range":[494,915],"padding":0},"axis":null},"y":{"field":"row","type":"nominal","scale":{"type":"point","domain":["h1","h2","Arafat 2023","Aso 2016","Barge Caballero 2019","Chen 2019","Gass 2014","Lin 2016","Park 2014","gap","total","events","het","test"],"range":[1317.9,1783.6],"padding":0},"axis":null},"text":{"field":"text","type":"nominal"}}},
 {"data":{"name":"headers"},"transform":[{"filter":"datum.kind === 'cihdr'"}],"mark":{"type":"text","fontWeight":"bold","align":"center","dy":-2.5},"encoding":{"x":{"field":"col","type":"nominal","scale":{"type":"point","domain":["rr","mh"],"range":[1047,1071],"padding":0},"axis":null},"y":{"field":"row","type":"nominal","scale":{"type":"point","domain":["h1","h2","Arafat 2023","Aso 2016","Barge Caballero 2019","Chen 2019","Gass 2014","Lin 2016","Park 2014","gap","total","events","het","test"],"range":[1317.9,1783.6],"padding":0},"axis":null},"text":{"field":"text","type":"nominal"}}},
 {"data":{"name":"headers"},"transform":[{"filter":"datum.kind === 'plothdr'"}],"mark":{"type":"text","fontWeight":"bold","align":"center","dx":4,"dy":-2.5},"encoding":{"x":{"datum":1,"type":"quantitative","scale":{"type":"log","domain":[0.1,10],"range":[1204.8,1775.3],"clamp":true,"nice":false},"axis":null},"y":{"field":"row","type":"nominal","scale":{"type":"point","domain":["h1","h2","Arafat 2023","Aso 2016","Barge Caballero 2019","Chen 2019","Gass 2014","Lin 2016","Park 2014","gap","total","events","het","test"],"range":[1317.9,1783.6],"padding":0},"axis":null},"text":{"field":"text","type":"nominal"}}},
 {"data":{"name":"headers"},"transform":[{"filter":"datum.kind === 'boldleft'"}],"mark":{"type":"text","fontWeight":"bold","align":"left","dy":-3},"encoding":{"x":{"datum":"study","type":"nominal","scale":{"type":"point","domain":["study","ci"],"range":[104,1175],"padding":0},"axis":null},"y":{"field":"row","type":"nominal","scale":{"type":"point","domain":["h1","h2","Arafat 2023","Aso 2016","Barge Caballero 2019","Chen 2019","Gass 2014","Lin 2016","Park 2014","gap","total","events","het","test"],"range":[1317.9,1783.6],"padding":0},"axis":null},"text":{"field":"text","type":"nominal"}}},
 {"data":{"name":"studies"},"transform":[{"filter":"datum.panel === 'C'"}],"mark":{"type":"text","align":"left"},"encoding":{"x":{"datum":"study","type":"nominal","scale":{"type":"point","domain":["study","ci"],"range":[104,1175],"padding":0},"axis":null},"y":{"field":"study","type":"nominal","scale":{"type":"point","domain":["h1","h2","Arafat 2023","Aso 2016","Barge Caballero 2019","Chen 2019","Gass 2014","Lin 2016","Park 2014","gap","total","events","het","test"],"range":[1317.9,1783.6],"padding":0},"axis":null},"text":{"field":"study","type":"nominal"}}},
 {"data":{"name":"footnotes"},"transform":[{"filter":"datum.panel === 'C'"}],"mark":{"type":"text","align":"left"},"encoding":{"x":{"datum":"study","type":"nominal","scale":{"type":"point","domain":["study","ci"],"range":[104,1175],"padding":0},"axis":null},"y":{"field":"row","type":"nominal","scale":{"type":"point","domain":["h1","h2","Arafat 2023","Aso 2016","Barge Caballero 2019","Chen 2019","Gass 2014","Lin 2016","Park 2014","gap","total","events","het","test"],"range":[1317.9,1783.6],"padding":0},"axis":null},"text":{"field":"text","type":"nominal"}}},
 {"data":{"name":"studies"},"transform":[{"filter":"datum.panel === 'C'"},{"fold":["e1","e2"],"as":["key","value"]}],"mark":{"type":"text","align":"right"},"encoding":{"x":{"field":"key","type":"nominal","scale":{"type":"point","domain":["e1","n1","e2","n2","w"],"range":[494,915],"padding":0},"axis":null},"y":{"field":"study","type":"nominal","scale":{"type":"point","domain":["h1","h2","Arafat 2023","Aso 2016","Barge Caballero 2019","Chen 2019","Gass 2014","Lin 2016","Park 2014","gap","total","events","het","test"],"range":[1317.9,1783.6],"padding":0},"axis":null},"text":{"field":"value","type":"nominal"}}},
 {"data":{"name":"studies"},"transform":[{"filter":"datum.panel === 'C'"},{"fold":["n1","n2"],"as":["key","value"]}],"mark":{"type":"text","align":"right","dx":-5.5},"encoding":{"x":{"field":"key","type":"nominal","scale":{"type":"point","domain":["e1","n1","e2","n2","w"],"range":[494,915],"padding":0},"axis":null},"y":{"field":"study","type":"nominal","scale":{"type":"point","domain":["h1","h2","Arafat 2023","Aso 2016","Barge Caballero 2019","Chen 2019","Gass 2014","Lin 2016","Park 2014","gap","total","events","het","test"],"range":[1317.9,1783.6],"padding":0},"axis":null},"text":{"field":"value","type":"nominal"}}},
 {"data":{"name":"studies"},"transform":[{"filter":"datum.panel === 'C'"}],"mark":{"type":"text","align":"right"},"encoding":{"x":{"datum":"w","type":"nominal","scale":{"type":"point","domain":["e1","n1","e2","n2","w"],"range":[494,915],"padding":0},"axis":null},"y":{"field":"study","type":"nominal","scale":{"type":"point","domain":["h1","h2","Arafat 2023","Aso 2016","Barge Caballero 2019","Chen 2019","Gass 2014","Lin 2016","Park 2014","gap","total","events","het","test"],"range":[1317.9,1783.6],"padding":0},"axis":null},"text":{"field":"w","type":"quantitative","format":".1%"}}},
 {"data":{"name":"studies"},"transform":[{"filter":"datum.panel === 'C'"}],"mark":{"type":"text","align":"right"},"encoding":{"x":{"datum":"ci","type":"nominal","scale":{"type":"point","domain":["study","ci"],"range":[104,1175],"padding":0},"axis":null},"y":{"field":"study","type":"nominal","scale":{"type":"point","domain":["h1","h2","Arafat 2023","Aso 2016","Barge Caballero 2019","Chen 2019","Gass 2014","Lin 2016","Park 2014","gap","total","events","het","test"],"range":[1317.9,1783.6],"padding":0},"axis":null},"text":{"field":"ci","type":"nominal"}}},
 {"data":{"name":"totals"},"transform":[{"filter":"datum.panel === 'C'"},{"fold":["e1","e2"],"as":["key","value"]}],"mark":{"type":"text","align":"right"},"encoding":{"x":{"field":"key","type":"nominal","scale":{"type":"point","domain":["e1","n1","e2","n2","w"],"range":[494,915],"padding":0},"axis":null},"y":{"datum":"events","type":"nominal","scale":{"type":"point","domain":["h1","h2","Arafat 2023","Aso 2016","Barge Caballero 2019","Chen 2019","Gass 2014","Lin 2016","Park 2014","gap","total","events","het","test"],"range":[1317.9,1783.6],"padding":0},"axis":null},"text":{"field":"value","type":"nominal"}}},
 {"data":{"name":"totals"},"transform":[{"filter":"datum.panel === 'C'"},{"fold":["n1","n2"],"as":["key","value"]}],"mark":{"type":"text","align":"right","fontWeight":"bold","dx":-6,"dy":-3},"encoding":{"x":{"field":"key","type":"nominal","scale":{"type":"point","domain":["e1","n1","e2","n2","w"],"range":[494,915],"padding":0},"axis":null},"y":{"datum":"total","type":"nominal","scale":{"type":"point","domain":["h1","h2","Arafat 2023","Aso 2016","Barge Caballero 2019","Chen 2019","Gass 2014","Lin 2016","Park 2014","gap","total","events","het","test"],"range":[1317.9,1783.6],"padding":0},"axis":null},"text":{"field":"value","type":"nominal"}}},
 {"data":{"name":"totals"},"transform":[{"filter":"datum.panel === 'C'"}],"mark":{"type":"text","align":"right","fontWeight":"bold","dy":-3},"encoding":{"x":{"datum":"w","type":"nominal","scale":{"type":"point","domain":["e1","n1","e2","n2","w"],"range":[494,915],"padding":0},"axis":null},"y":{"datum":"total","type":"nominal","scale":{"type":"point","domain":["h1","h2","Arafat 2023","Aso 2016","Barge Caballero 2019","Chen 2019","Gass 2014","Lin 2016","Park 2014","gap","total","events","het","test"],"range":[1317.9,1783.6],"padding":0},"axis":null},"text":{"field":"w","type":"quantitative","format":".1%"}}},
 {"data":{"name":"totals"},"transform":[{"filter":"datum.panel === 'C'"}],"mark":{"type":"text","align":"right","fontWeight":"bold","dy":-3},"encoding":{"x":{"datum":"ci","type":"nominal","scale":{"type":"point","domain":["study","ci"],"range":[104,1175],"padding":0},"axis":null},"y":{"datum":"total","type":"nominal","scale":{"type":"point","domain":["h1","h2","Arafat 2023","Aso 2016","Barge Caballero 2019","Chen 2019","Gass 2014","Lin 2016","Park 2014","gap","total","events","het","test"],"range":[1317.9,1783.6],"padding":0},"axis":null},"text":{"field":"ci","type":"nominal"}}},
 {"data":{"name":"totals"},"transform":[{"filter":"datum.panel === 'C'"}],"mark":{"type":"rule"},"encoding":{"x":{"datum":0,"type":"quantitative","scale":{"type":"linear","domain":[0,1],"range":[81,1807.6],"zero":false,"nice":false},"axis":null},"x2":{"datum":1},"y":{"datum":0,"type":"quantitative","scale":{"type":"linear","domain":[0,1],"range":[1360,1736],"zero":false,"nice":false},"axis":null}}},
 {"data":{"name":"totals"},"transform":[{"filter":"datum.panel === 'C'"}],"mark":{"type":"rule"},"encoding":{"x":{"datum":1,"type":"quantitative","scale":{"type":"log","domain":[0.1,10],"range":[1204.8,1775.3],"clamp":true,"nice":false},"axis":null},"y":{"datum":0,"type":"quantitative","scale":{"type":"linear","domain":[0,1],"range":[1360,1736],"zero":false,"nice":false},"axis":null},"y2":{"datum":1}}},
 {"data":{"name":"studies"},"transform":[{"filter":"datum.panel === 'C'"}],"mark":{"type":"rule","yOffset":-11},"encoding":{"x":{"field":"lo","type":"quantitative","scale":{"type":"log","domain":[0.1,10],"range":[1204.8,1775.3],"clamp":true,"nice":false},"axis":{"orient":"bottom","values":[0.1,0.2,0.5,1,2,5,10],"format":"~g","offset":-150,"title":"ECMO+IABP\u00a0\u00a0\u00a0ECMO alone","tickSize":9,"labelPadding":7.5,"titlePadding":7,"labelFlush":true,"labelFlushOffset":5.5,"labelOverlap":false}},"x2":{"field":"hi"},"y":{"field":"study","type":"nominal","scale":{"type":"point","domain":["h1","h2","Arafat 2023","Aso 2016","Barge Caballero 2019","Chen 2019","Gass 2014","Lin 2016","Park 2014","gap","total","events","het","test"],"range":[1317.9,1783.6],"padding":0},"axis":null}}},
 {"data":{"name":"studies"},"transform":[{"filter":"datum.panel === 'C'"},{"filter":"datum.rr >= 0.1 && datum.rr <= 10"}],"mark":{"type":"point","shape":"square","filled":true,"color":"#003399","opacity":1,"yOffset":-8.5},"encoding":{"x":{"field":"rr","type":"quantitative","scale":{"type":"log","domain":[0.1,10],"range":[1204.8,1775.3],"clamp":true,"nice":false},"axis":{"orient":"bottom","values":[0.1,0.2,0.5,1,2,5,10],"offset":-150,"tickSize":-9,"labels":false,"domain":false,"title":null}},"y":{"field":"study","type":"nominal","scale":{"type":"point","domain":["h1","h2","Arafat 2023","Aso 2016","Barge Caballero 2019","Chen 2019","Gass 2014","Lin 2016","Park 2014","gap","total","events","het","test"],"range":[1317.9,1783.6],"padding":0},"axis":null},"size":{"field":"w","type":"quantitative","scale":{"type":"pow","exponent":1.35,"domain":[0,0.55],"range":[9,560]},"legend":null}}},
 {"data":{"name":"studies"},"transform":[{"filter":"datum.panel === 'C'"},{"filter":"datum.hi > 10"}],"mark":{"type":"point","shape":"M-0.5,-1L0.7,0L-0.5,1Z","filled":true,"color":"#000000","opacity":1,"size":289,"yOffset":-11},"encoding":{"x":{"field":"hi","type":"quantitative","scale":{"type":"log","domain":[0.1,10],"range":[1204.8,1775.3],"clamp":true,"nice":false},"axis":null},"y":{"field":"study","type":"nominal","scale":{"type":"point","domain":["h1","h2","Arafat 2023","Aso 2016","Barge Caballero 2019","Chen 2019","Gass 2014","Lin 2016","Park 2014","gap","total","events","het","test"],"range":[1317.9,1783.6],"padding":0},"axis":null}}},
 {"data":{"name":"totals"},"transform":[{"filter":"datum.panel === 'C'"},{"fold":["lo","rr","hi"],"as":["key","value"]},{"lookup":"key","from":{"data":{"name":"profile"},"key":"key","fields":["top","bot"]}}],"mark":{"type":"area","color":"#000000","opacity":1},"encoding":{"x":{"field":"value","type":"quantitative","scale":{"type":"log","domain":[0.1,10],"range":[1204.8,1775.3],"clamp":true,"nice":false},"axis":null},"y":{"field":"top","type":"quantitative","scale":{"type":"linear","domain":[-1,1],"range":[1680.1,1649.1],"zero":false,"nice":false},"axis":null},"y2":{"field":"bot"}}}
]
}
